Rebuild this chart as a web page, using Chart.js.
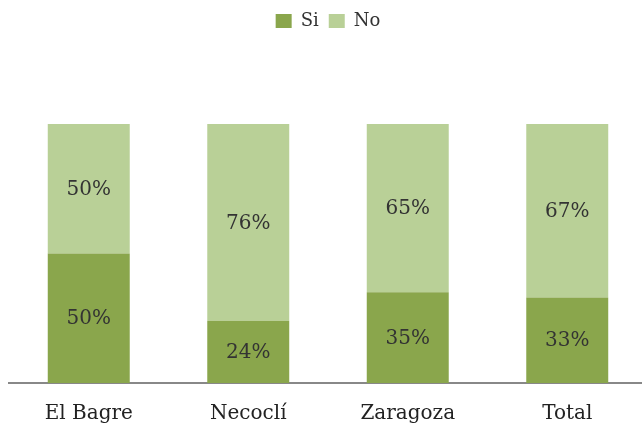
<!DOCTYPE html>
<html><head><meta charset="utf-8">
<script src="https://cdn.jsdelivr.net/npm/chart.js@4/dist/chart.umd.min.js"></script>
<style>html,body{margin:0;padding:0;background:#fff;overflow:hidden;width:642px;height:428px}
#wrap{position:absolute;left:0;top:0;width:650px;height:449px}</style>
</head><body>
<div id="wrap"><canvas id="c" width="650" height="449"></canvas></div>
<script>
const categories = ["El Bagre", "Necoclí", "Zaragoza", "Total"];
const siValues = [50, 24, 35, 33];
const noValues = [50, 76, 65, 67];
const seriesNames = ["Si", "No"];

const labelPlugin = {
  id: 'segLabels',
  beforeInit(chart) {
    const lg = chart.legend;
    if (lg) {
      const orig = lg.fit;
      lg.fit = function () { orig.call(this); this.height += 84; };
    }
  },
  afterDatasetsDraw(chart) {
    const ctx = chart.ctx;
    ctx.save();
    ctx.font = '20px "DejaVu Serif"';
    ctx.fillStyle = '#333333';
    ctx.textAlign = 'center';
    ctx.textBaseline = 'middle';
    chart.data.datasets.forEach((ds, di) => {
      const meta = chart.getDatasetMeta(di);
      meta.data.forEach((bar, i) => {
        const y = (bar.y + bar.base) / 2;
        ctx.fillText(ds.data[i] + '%', bar.x, y + 1);
      });
    });
    ctx.restore();
  }
};

new Chart(document.getElementById('c'), {
  type: 'bar',
  data: {
    labels: categories,
    datasets: [
      { label: seriesNames[0], data: siValues, backgroundColor: '#8aa64c', borderWidth: 0 },
      { label: seriesNames[1], data: noValues, backgroundColor: '#b9d097', borderWidth: 0 }
    ]
  },
  options: {
    responsive: false,
    animation: false,
    datasets: { bar: { categoryPercentage: 1.0, barPercentage: 0.514 } },
    layout: { padding: { top: 2, left: 9, right: 3, bottom: 4 } },
    plugins: {
      legend: {
        position: 'top',
        labels: {
          boxWidth: 16, boxHeight: 14, padding: 10,
          color: '#333', font: { family: 'DejaVu Serif', size: 18 }
        }
      },
      tooltip: { enabled: false }
    },
    scales: {
      x: {
        stacked: true,
        grid: { display: false, drawTicks: false },
        border: { display: true, color: '#888', width: 2 },
        ticks: { color: '#222', font: { family: 'DejaVu Serif', size: 20 }, padding: 19 }
      },
      y: {
        stacked: true,
        display: false,
        min: 0, max: 100
      }
    }
  },
  plugins: [labelPlugin]
});
</script>
</body></html>
